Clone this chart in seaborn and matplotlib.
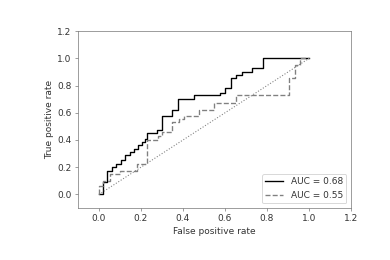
import matplotlib
matplotlib.use("Agg")
import matplotlib.pyplot as plt
import seaborn as sns
import numpy as np

# ROC curve vertices (step points, drawn with steps-post)
fpr_a = [0.0, 0.021, 0.040, 0.061, 0.082, 0.104, 0.125, 0.146, 0.165, 0.184, 0.205, 0.221,
         0.229, 0.277, 0.300, 0.349, 0.376, 0.452, 0.577, 0.601, 0.628, 0.652, 0.681, 0.729,
         0.780, 1.0]
tpr_a = [0.0, 0.091, 0.172, 0.201, 0.226, 0.256, 0.287, 0.312, 0.337, 0.361, 0.385, 0.410,
         0.450, 0.477, 0.575, 0.624, 0.700, 0.730, 0.746, 0.779, 0.853, 0.877, 0.901, 0.926,
         1.0, 1.0]
fpr_b = [0.0, 0.0, 0.020, 0.050, 0.100, 0.180, 0.229, 0.280, 0.300, 0.349, 0.380, 0.405,
         0.476, 0.548, 0.652, 0.903, 0.932, 0.956, 1.0]
tpr_b = [0.0, 0.06, 0.100, 0.150, 0.170, 0.226, 0.400, 0.430, 0.460, 0.533, 0.558, 0.575,
         0.620, 0.673, 0.730, 0.853, 0.950, 1.0, 1.0]
diag_x = [0.0, 1.0]
diag_y = [0.0, 1.0]
labels = ["AUC = 0.68", "AUC = 0.55"]
ticks = [0.0, 0.2, 0.4, 0.6, 0.8, 1.0, 1.2]

spine_col = "#7a7a7a"
text_col = "#333333"
plt.rcParams.update({
    "axes.edgecolor": spine_col,
    "xtick.color": spine_col,
    "ytick.color": spine_col,
    "xtick.labelcolor": text_col,
    "ytick.labelcolor": text_col,
    "axes.labelcolor": text_col,
    "legend.labelcolor": text_col,
})

fig, ax = plt.subplots(figsize=(6, 4), dpi=65)
fig.subplots_adjust(left=0.2, right=0.9, bottom=0.2, top=0.88)

sns.lineplot(x=fpr_a, y=tpr_a, ax=ax, color="black", linewidth=1.5,
             drawstyle="steps-post", estimator=None, sort=False, label=labels[0])
sns.lineplot(x=fpr_b, y=tpr_b, ax=ax, color="gray", linewidth=1.5, linestyle="--",
             drawstyle="steps-post", estimator=None, sort=False, label=labels[1])
sns.lineplot(x=diag_x, y=diag_y, ax=ax, color="gray", linewidth=1.2, linestyle=":",
             estimator=None, sort=False)

ax.set_xlim(-0.1, 1.2)
ax.set_ylim(-0.1, 1.2)
ax.set_xticks(ticks)
ax.set_yticks(ticks)
ax.set_xlabel("False positive rate")
ax.set_ylabel("True positive rate")
ax.legend(loc="lower right")

fig.savefig("out.png", dpi=65)
